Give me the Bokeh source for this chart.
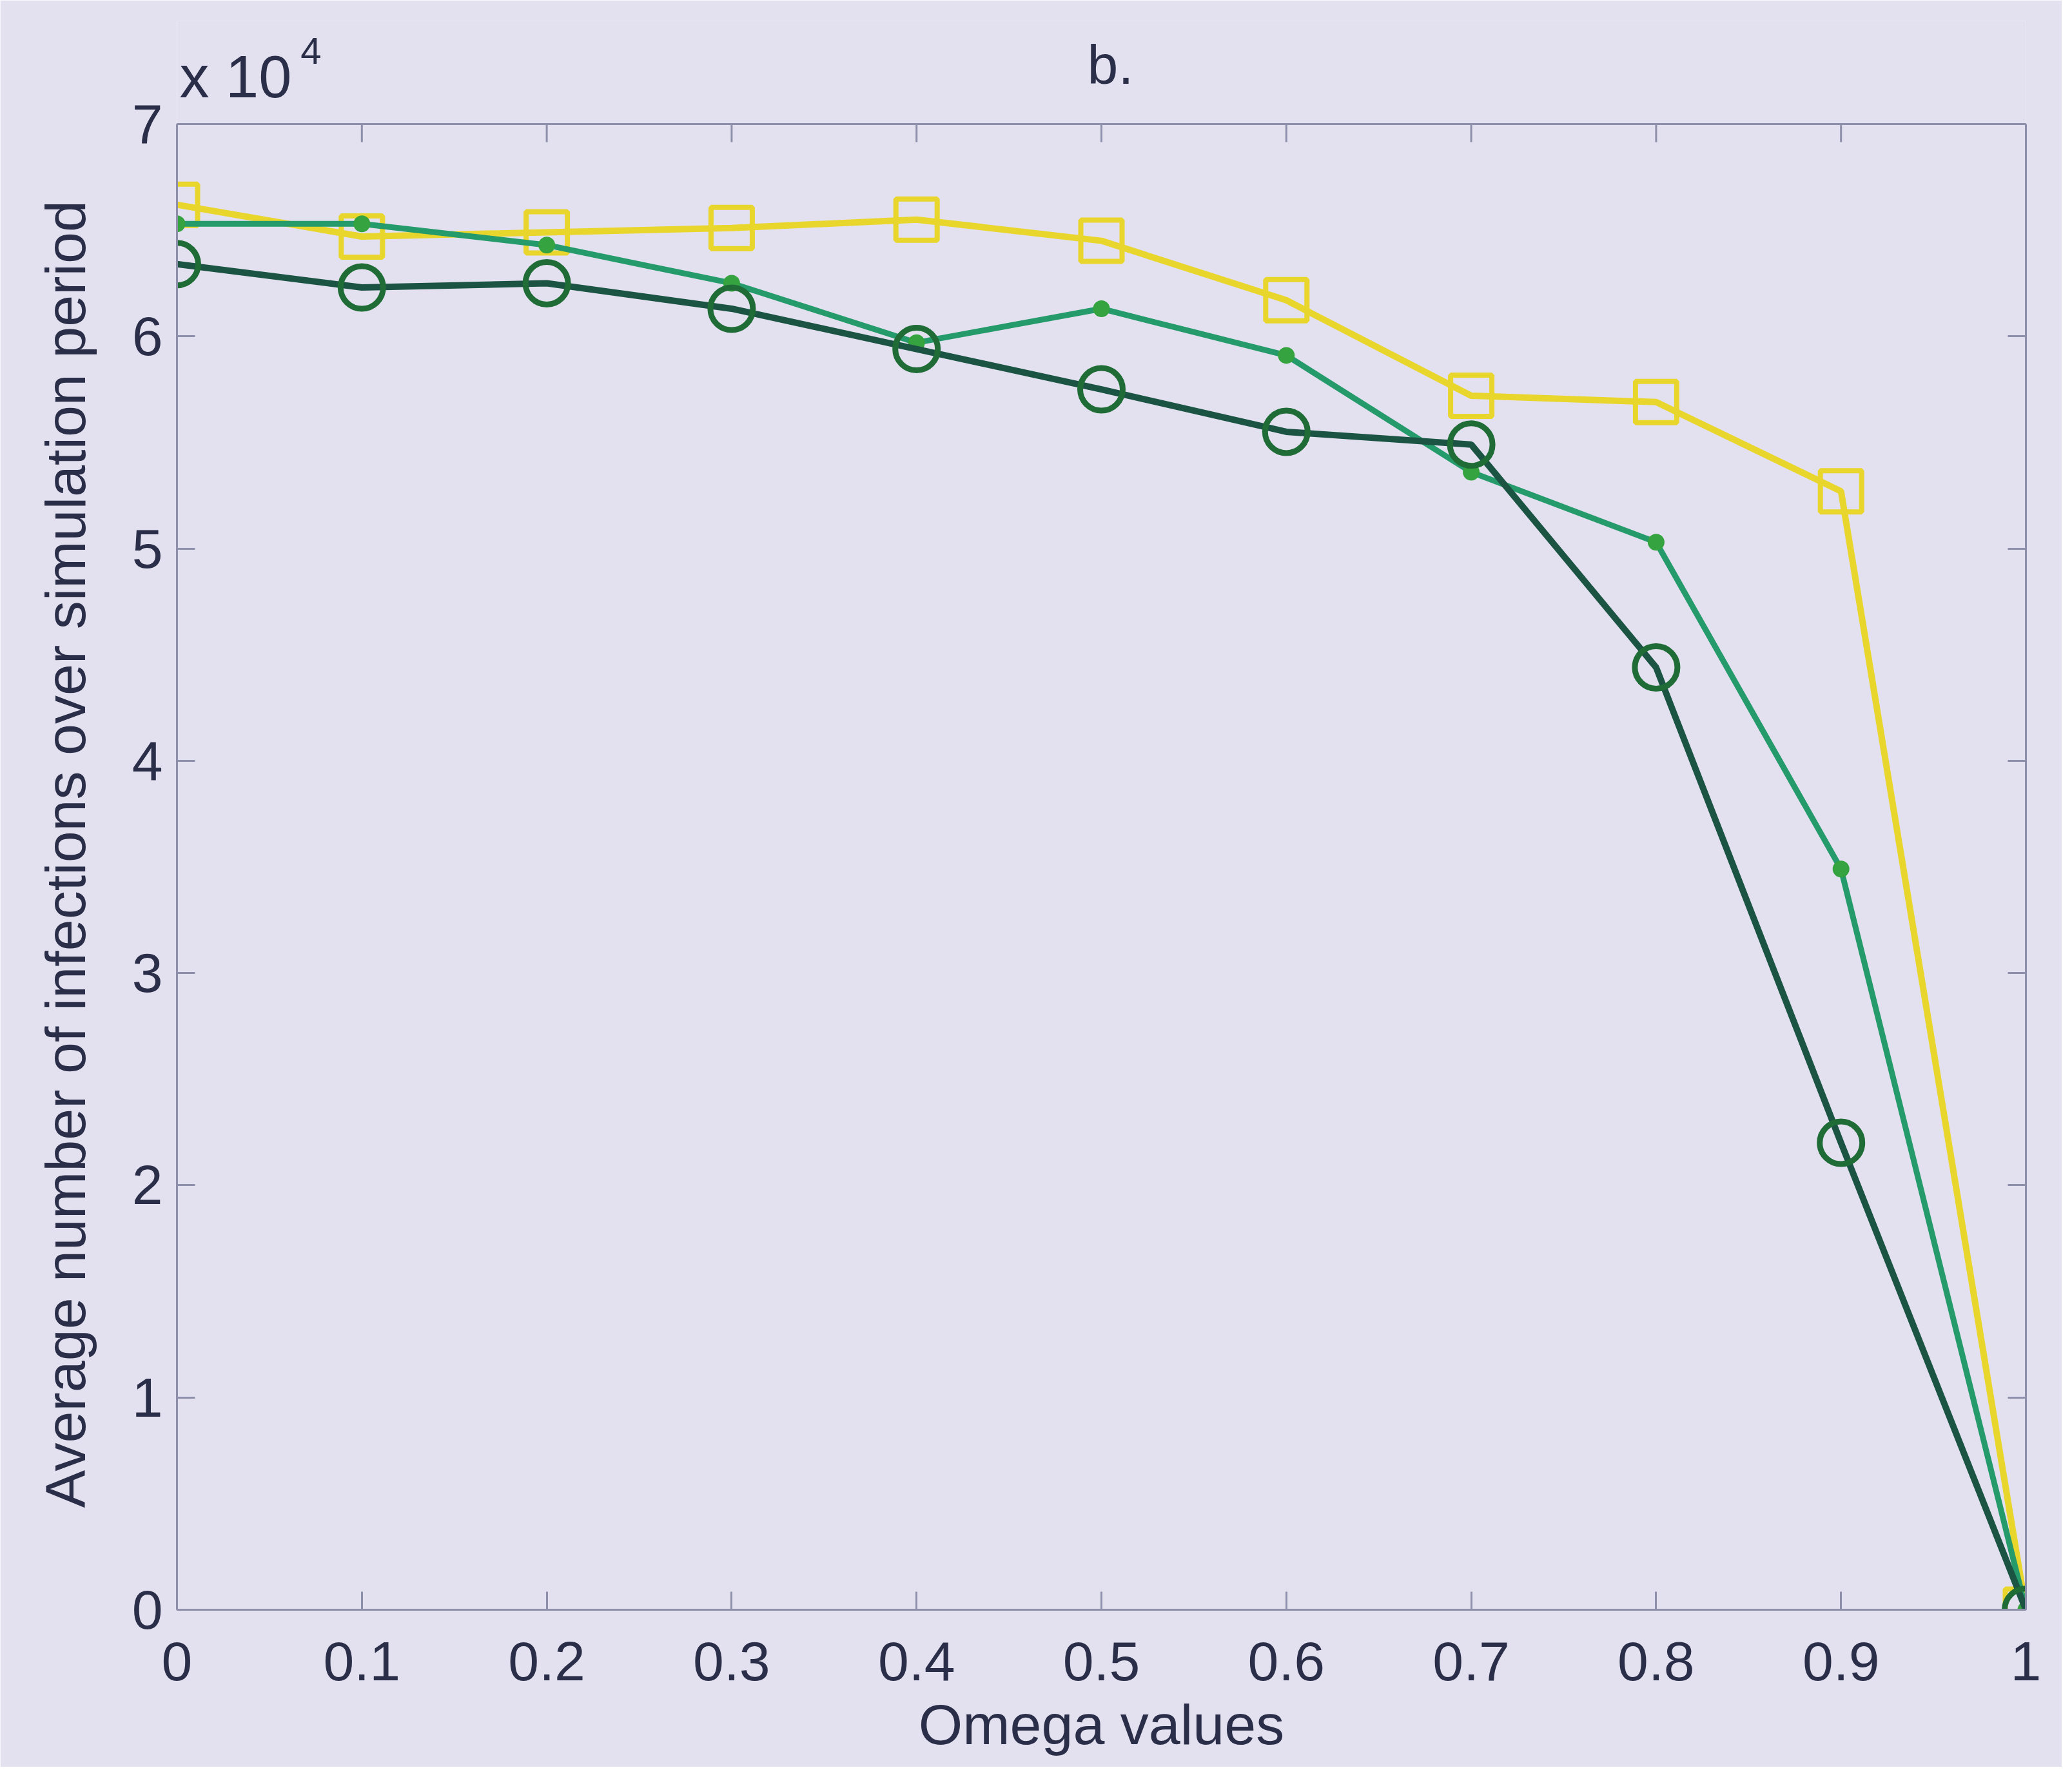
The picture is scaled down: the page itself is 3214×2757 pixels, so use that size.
from bokeh.plotting import figure
from bokeh.models import Range1d, FixedTicker, LinearAxis, Label, Span, Title
from bokeh.embed import file_html
from bokeh.resources import INLINE

# ---- data ----
omega = [0.0, 0.1, 0.2, 0.3, 0.4, 0.5, 0.6, 0.7, 0.8, 0.9, 1.0]
series_squares = [66200, 64700, 64900, 65100, 65500, 64500, 61700, 57200, 56900, 52700, 0]
series_dots = [65300, 65300, 64300, 62500, 59700, 61300, 59100, 53600, 50300, 34900, 0]
series_circles = [63400, 62300, 62500, 61300, 59400, 57500, 55500, 54900, 44400, 22000, 0]

x_ticks = [0.0, 0.1, 0.2, 0.3, 0.4, 0.5, 0.6, 0.7, 0.8, 0.9, 1.0]
x_tick_labels = ["0", "0.1", "0.2", "0.3", "0.4", "0.5", "0.6", "0.7", "0.8", "0.9", "1"]
y_ticks = [0, 10000, 20000, 30000, 40000, 50000, 60000, 70000]
y_tick_labels = ["0", "1", "2", "3", "4", "5", "6", "7"]
y_max = 70000

title_text = "b."
x_label = "Omega values"
y_label = "Average number of infections over simulation period"

# ---- style ----
BG = "#e3e1ef"
AXC = "#8e8fab"
TXT = "#2a2e48"
FONT = "Liberation Sans"
FS = "86px"

# frame extends above the axes box so the "b." and "x 10^4" texts can live inside it
FRAME_H = 2465
BOX_H = 2305
top_val = y_max * FRAME_H / BOX_H
px = y_max / BOX_H  # data units per pixel

p = figure(width=3198, height=2741, x_range=Range1d(0, 1), y_range=Range1d(0, top_val),
           output_backend="svg", toolbar_location=None,
           min_border_left=273, min_border_right=56, min_border_top=32, min_border_bottom=244,
           background_fill_color=BG, border_fill_color=BG, outline_line_color=None)
p.grid.visible = False

xa = p.xaxis[0]
xa.ticker = FixedTicker(ticks=x_ticks)
xa.major_label_overrides = {t: l for t, l in zip(x_ticks, x_tick_labels)}
ya = p.yaxis[0]
ya.ticker = FixedTicker(ticks=y_ticks)
ya.major_label_overrides = {t: l for t, l in zip(y_ticks, y_tick_labels)}
ya.bounds = (0, y_max)

ra = LinearAxis(ticker=FixedTicker(ticks=y_ticks), bounds=(0, y_max))
ra.major_label_text_font_size = "1px"
ra.major_label_text_color = None
ra.major_label_standoff = 0
p.add_layout(ra, "right")

for ax in (xa, ya, ra):
    ax.axis_line_color = AXC
    ax.axis_line_width = 3
    ax.major_tick_line_color = AXC
    ax.major_tick_line_width = 3
    ax.major_tick_in = 28
    ax.major_tick_out = 0
    ax.minor_tick_line_color = None

for ax in (xa, ya):
    ax.major_label_text_font = FONT
    ax.major_label_text_font_size = FS
    ax.major_label_text_color = TXT
    ax.axis_label_text_font = FONT
    ax.axis_label_text_font_size = "88px"
    ax.axis_label_text_font_style = "normal"
    ax.axis_label_text_color = TXT

xa.axis_label = x_label
xa.major_label_standoff = 50
xa.axis_label_standoff = 16
ya.major_label_standoff = 22

# y-axis label as a side title so it can be placed along the axes box, not the taller frame
ylab = Title(text=y_label, align="left", offset=158, vertical_align="middle", standoff=100,
             text_font=FONT, text_font_size="88px", text_font_style="normal", text_color=TXT)
p.add_layout(ylab, "left")

# top border of the axes box with inward ticks
p.add_layout(Span(location=y_max, dimension="width", line_color=AXC, line_width=3))
p.segment(x0=x_ticks, y0=[y_max] * len(x_ticks), x1=x_ticks, y1=[y_max - 28 * px] * len(x_ticks),
          line_color=AXC, line_width=3)

YEL = "#e9d62c"
GRN = "#259a6a"
GRN_DOT = "#35a33f"
DGR = "#1c5444"
DGR_M = "#1f6c36"

p.line(omega, series_squares, line_color=YEL, line_width=10)
p.scatter(omega, series_squares, marker="square", size=64, fill_color=None,
          line_color=YEL, line_width=8)

p.line(omega, series_dots, line_color=GRN, line_width=9)
p.scatter(omega, series_dots, marker="circle", size=24, fill_color=GRN_DOT,
          line_color=GRN_DOT, line_width=2)

p.line(omega, series_circles, line_color=DGR, line_width=10)
p.scatter(omega, series_circles, marker="circle", size=66, fill_color=None,
          line_color=DGR_M, line_width=9)

# title and exponent marker
p.add_layout(Label(x=0.5 + 14 / 2871, y=y_max + 93 * px, text=title_text,
                   text_align="center", text_baseline="middle",
                   text_font=FONT, text_font_size="86px", text_color=TXT))
p.add_layout(Label(x=4 / 2871, y=y_max + 74 * px, text="x 10",
                   text_align="left", text_baseline="alphabetic",
                   text_font=FONT, text_font_size="92px", text_color=TXT))
p.add_layout(Label(x=192 / 2871, y=y_max + 114 * px, text="4",
                   text_align="left", text_baseline="alphabetic",
                   text_font=FONT, text_font_size="58px", text_color=TXT))

open("out.html", "w").write(file_html(p, INLINE))
